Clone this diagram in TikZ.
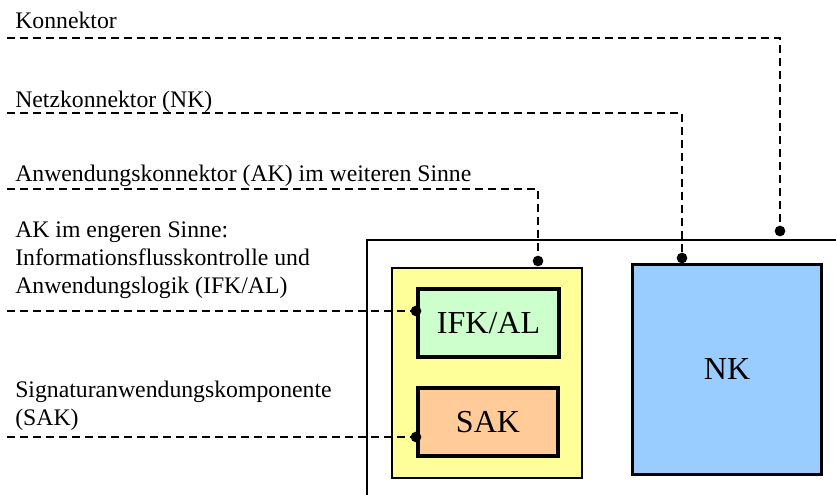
\documentclass[tikz,border=0pt]{standalone}
\usepackage{fontspec}
\setmainfont{Liberation Serif}
\usetikzlibrary{positioning}

\definecolor{akyellow}{HTML}{FFFF99}
\definecolor{ifkgreen}{HTML}{CCFFCC}
\definecolor{sakorange}{HTML}{FFCC99}
\definecolor{nkblue}{HTML}{99CCFF}

\begin{document}
\begin{tikzpicture}[
  x=0.75pt, y=-0.75pt,
  lbl/.style={anchor=base west, inner sep=0pt, align=left,
              font=\fontsize{17.8}{21}\selectfont},
  box/.style={draw, inner sep=0pt, font=\fontsize{24}{28}\selectfont},
  akbox/.style={box, fill=akyellow, line width=1.5pt, minimum width=142.5pt, minimum height=157.5pt},
  ifkbox/.style={box, fill=ifkgreen, line width=3pt, minimum width=105.75pt, minimum height=51pt},
  sakbox/.style={box, fill=sakorange, line width=3pt, minimum width=105pt, minimum height=51pt},
  nkbox/.style={box, fill=nkblue, line width=2.5pt, minimum width=141.5pt, minimum height=157.5pt},
  frame/.style={line width=1.5pt},
  conn/.style={line width=1.4pt, dash pattern=on 6pt off 3.75pt},
  dot/.style={circle, fill, inner sep=0pt, minimum size=8pt},
]
  \useasboundingbox (0,0) rectangle (836,495);

  % labels on the left
  \node[lbl] (konn) at (15,29)  {Konnektor};
  \node[lbl] (netz) at (15,108) {Netzkonnektor (NK)};
  \node[lbl] (akw)  at (15,182) {Anwendungskonnektor (AK) im weiteren Sinne};
  \node[lbl] (ake)  at (15,294) {AK im engeren Sinne:\\Informationsflusskontrolle und\\Anwendungslogik (IFK/AL)};
  \node[lbl] (sig)  at (15,426) {Signaturanwendungskomponente\\(SAK)};

  % connector frame
  \draw[frame] (367,495) |- (836,240);

  % components
  \node[akbox]  (ak)  at (487,373)   {};
  \node[ifkbox] (ifk) at (488.5,323) {IFK/AL};
  \node[sakbox] (sak) at (488,422)   {SAK};
  \node[nkbox]  (nk)  at (727,369.5) {\raisebox{-7.5pt}{NK}};

  % dots
  \node[dot] (kdot)   at (780,231) {};
  \node[dot] (nkdot)  at (682,258) {};
  \node[dot] (akdot)  at (538,261) {};
  \node[dot] (ifkdot) at (416,311) {};
  \node[dot] (sakdot) at (416,437) {};

  % free ends of the dashed lines
  \coordinate (k0)   at (7,38);
  \coordinate (nk0)  at (7,113);
  \coordinate (ak0)  at (7,189);
  \coordinate (ifk0) at (7,311);
  \coordinate (sak0) at (7,437);

  \draw[conn] (k0) -| (kdot.center);
  \draw[conn] (nk0) -| (nkdot.center);
  \draw[conn] (ak0) -| (akdot.center);
  \draw[conn] (ifk0) -- (ifkdot.center);
  \draw[conn] (sak0) -- (sakdot.center);
\end{tikzpicture}
\end{document}
